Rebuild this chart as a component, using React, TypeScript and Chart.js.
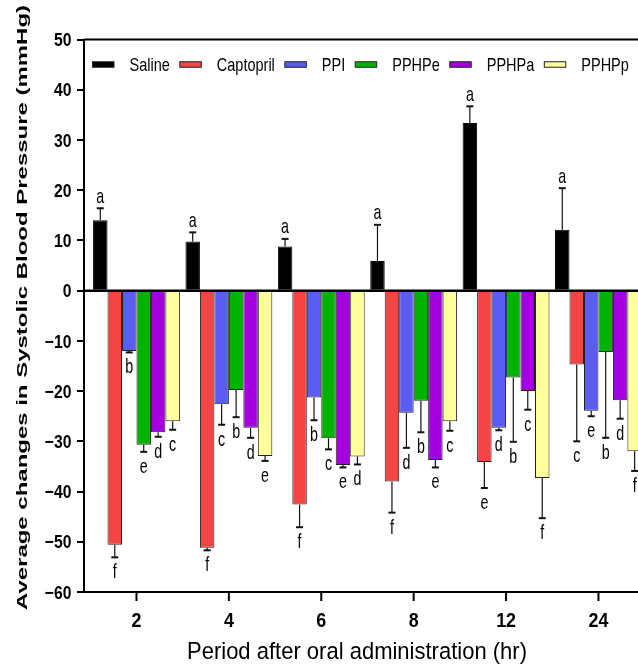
import React, { useEffect, useRef } from "react";
import { Chart, registerables } from "chart.js";

Chart.register(...registerables);

// ---------- data ----------
const timeLabels = ["2", "4", "6", "8", "12", "24"];
const seriesNames = ["Saline", "Captopril", "PPI", "PPHPe", "PPHPa", "PPHPp"];

const salineMean = [14.0, 9.8, 8.8, 5.9, 33.4, 12.1];
const salineErr = [2.4, 1.8, 1.5, 7.2, 3.3, 8.3];
const salineLetters = ["a", "a", "a", "a", "a", "a"];

const captoprilMean = [-50.6, -51.2, -42.6, -38.0, -34.1, -14.7];
const captoprilErr = [2.5, 0.5, 4.5, 6.2, 5.2, 15.3];
const captoprilLetters = ["f", "f", "f", "f", "e", "c"];

const ppiMean = [-12.0, -22.6, -21.3, -24.3, -27.3, -23.9];
const ppiErr = [0.3, 4.1, 4.5, 7.0, 0.5, 1.1];
const ppiLetters = ["b", "c", "b", "d", "d", "e"];

const pphpeMean = [-30.7, -19.8, -29.4, -21.9, -17.3, -12.2];
const pphpeErr = [1.4, 5.4, 2.2, 6.3, 12.8, 17.1];
const pphpeLetters = ["e", "b", "c", "b", "b", "b"];

const pphpaMean = [-28.2, -27.3, -34.7, -33.7, -20.0, -21.8];
const pphpaErr = [0.9, 2.0, 0.5, 1.5, 3.7, 3.7];
const pphpaLetters = ["d", "d", "e", "e", "c", "d"];

const pphppMean = [-26.0, -32.9, -33.0, -26.0, -37.3, -32.0];
const pphppErr = [1.7, 1.0, 1.6, 1.9, 8.0, 3.9];
const pphppLetters = ["c", "e", "d", "c", "f", "f"];

const seriesColors = ["#000000", "#f44545", "#5a5cf2", "#00b200", "#a200de", "#ffff9e"];

const yMin = -60;
const yMax = 50;
const yStep = 10;

const yTitle = "Average changes in Systolic Blood Pressure (mmHg)";
const xTitle = "Period after oral administration (hr)";

const series = [
  { mean: salineMean, err: salineErr, letters: salineLetters },
  { mean: captoprilMean, err: captoprilErr, letters: captoprilLetters },
  { mean: ppiMean, err: ppiErr, letters: ppiLetters },
  { mean: pphpeMean, err: pphpeErr, letters: pphpeLetters },
  { mean: pphpaMean, err: pphpaErr, letters: pphpaLetters },
  { mean: pphppMean, err: pphppErr, letters: pphppLetters },
];

const SANS = "'Liberation Sans', Arial, sans-serif";

function drawText(ctx: any, text: string, x: number, y: number, font: string, sx: number, sy: number, align: string, baseline: string) {
  ctx.save();
  ctx.font = font;
  ctx.fillStyle = "#000";
  ctx.textAlign = align;
  ctx.textBaseline = baseline;
  ctx.translate(x, y);
  ctx.scale(sx, sy);
  ctx.fillText(text, 0, 0);
  ctx.restore();
}

const overlayPlugin = {
  id: "overlay",
  afterDatasetsDraw(chart: any) {
    const { ctx, chartArea, scales } = chart;
    const y = scales.y;
    ctx.save();
    ctx.strokeStyle = "#000";
    ctx.lineCap = "butt";
    // top frame line
    ctx.lineWidth = 2;
    ctx.beginPath();
    ctx.moveTo(chartArea.left, chartArea.top);
    ctx.lineTo(chartArea.right, chartArea.top);
    ctx.stroke();
    // zero line
    const y0 = y.getPixelForValue(0);
    ctx.lineWidth = 2.5;
    ctx.beginPath();
    ctx.moveTo(chartArea.left, y0);
    ctx.lineTo(chartArea.right, y0);
    ctx.stroke();

    series.forEach((s, di) => {
      const meta = chart.getDatasetMeta(di);
      meta.data.forEach((bar: any, i: number) => {
        const v = s.mean[i];
        const e = s.err[i];
        const sign = v >= 0 ? 1 : -1;
        const yEnd = y.getPixelForValue(v);
        const yErr = y.getPixelForValue(v + sign * e);
        ctx.strokeStyle = "#111";
        ctx.lineWidth = 1.2;
        ctx.beginPath();
        ctx.moveTo(bar.x, yEnd);
        ctx.lineTo(bar.x, yErr);
        ctx.stroke();
        ctx.lineWidth = 2;
        ctx.beginPath();
        ctx.moveTo(bar.x - 3.5, yErr);
        ctx.lineTo(bar.x + 3.5, yErr);
        ctx.stroke();

        const by = sign > 0 ? yErr - 5.5 : yErr + 21;
        drawText(ctx, s.letters[i], bar.x, by, `15px ${SANS}`, 0.95, 1.4, "center", "alphabetic");
      });
    });
    ctx.restore();
  },
  afterDraw(chart: any) {
    const { ctx, scales, chartArea } = chart;
    ctx.save();
    // legend
    let x = 92.5;
    const boxW = 21.5;
    const boxH = 5.5;
    const ly = 64.5;
    const legendFont = `14.5px ${SANS}`;
    const legendSx = 1.0;
    seriesNames.forEach((name, i) => {
      ctx.fillStyle = seriesColors[i];
      ctx.fillRect(x, ly - boxH / 2, boxW, boxH);
      ctx.strokeStyle = "#222";
      ctx.lineWidth = 1;
      ctx.strokeRect(x, ly - boxH / 2, boxW, boxH);
      const tx = x + boxW + 15.5;
      drawText(ctx, name, tx, 71, legendFont, legendSx, 1.25, "left", "alphabetic");
      ctx.font = legendFont;
      const w = ctx.measureText(name).width * legendSx;
      x = tx + w + 10;
    });

    // x tick marks and labels
    const xs = scales.x;
    timeLabels.forEach((lab, i) => {
      const px = xs.getPixelForValue(i);
      ctx.fillStyle = "#000";
      ctx.fillRect(px - 1, chartArea.bottom, 2, 9);
      drawText(ctx, lab, px, 627, `bold 21px ${SANS}`, 0.85, 1, "center", "alphabetic");
    });

    // y tick labels
    const ys = scales.y;
    for (let v = yMin; v <= yMax; v += yStep) {
      const py = ys.getPixelForValue(v);
      const lab = String(v).replace("-", "\u2212");
      drawText(ctx, lab, 71.5, py + 6.7, `bold 18.5px ${SANS}`, 0.85, 1, "right", "alphabetic");
    }

    // y title
    ctx.save();
    ctx.font = `bold 14px ${SANS}`;
    const tw = ctx.measureText(yTitle).width;
    const sx = 605 / tw;
    ctx.translate(27, 307.5);
    ctx.rotate(-Math.PI / 2);
    ctx.scale(sx, 1);
    ctx.textAlign = "center";
    ctx.textBaseline = "alphabetic";
    ctx.fillStyle = "#000";
    ctx.fillText(yTitle, 0, 0);
    ctx.restore();

    // x title
    ctx.font = `21px ${SANS}`;
    const xw = ctx.measureText(xTitle).width;
    drawText(ctx, xTitle, 357, 659, `21px ${SANS}`, 340 / xw, 1.1, "center", "alphabetic");

    ctx.restore();
  },
};

export default function App() {
  const canvasRef = useRef<HTMLCanvasElement | null>(null);

  useEffect(() => {
    if (!canvasRef.current) return;
    const datasets = series.map((s, di) => ({
      label: seriesNames[di],
      data: s.mean.map((v, i) => ({ x: i, y: v })),
      backgroundColor: seriesColors[di],
      borderColor: di === 0 ? "#000" : "#222",
      borderWidth: 1,
      barPercentage: 1,
      categoryPercentage: 0.94,
    }));

    const chart = new Chart(canvasRef.current, {
      type: "bar",
      data: { datasets },
      options: {
        animation: false,
        responsive: true,
        maintainAspectRatio: false,
        layout: { padding: { top: 39.5, left: 0, right: 0, bottom: 0 } },
        plugins: {
          legend: { display: false },
          tooltip: { enabled: false },
        },
        scales: {
          x: {
            type: "linear",
            min: -0.568,
            max: 5.428,
            offset: false,
            grid: { display: false },
            border: { display: true, color: "#000", width: 2 },
            afterBuildTicks: (scale: any) => {
              scale.ticks = timeLabels.map((_, i) => ({ value: i }));
            },
            afterFit: (scale: any) => {
              scale.height = 75;
            },
            ticks: {
              autoSkip: false,
              maxRotation: 0,
              padding: 3,
              color: "rgba(0,0,0,0)",
              font: { family: SANS, size: 21, weight: "bold" },
              callback: (_v: any, index: number) => timeLabels[index],
            },
          },
          y: {
            min: yMin,
            max: yMax,
            grid: {
              display: true,
              drawOnChartArea: false,
              drawTicks: true,
              tickLength: 7,
              color: "#000",
              lineWidth: 2,
            },
            border: { display: true, color: "#000", width: 2 },
            afterFit: (scale: any) => {
              scale.width = 84;
            },
            ticks: {
              stepSize: yStep,
              padding: 5,
              color: "rgba(0,0,0,0)",
              font: { family: SANS, size: 18, weight: "bold" },
            },
          },
        },
      },
      plugins: [overlayPlugin],
    } as any);

    return () => chart.destroy();
  }, []);

  return (
    <div style={{ position: "absolute", left: 0, top: 0, width: 638, height: 667, background: "#fff" }}>
      <canvas ref={canvasRef} />
    </div>
  );
}
